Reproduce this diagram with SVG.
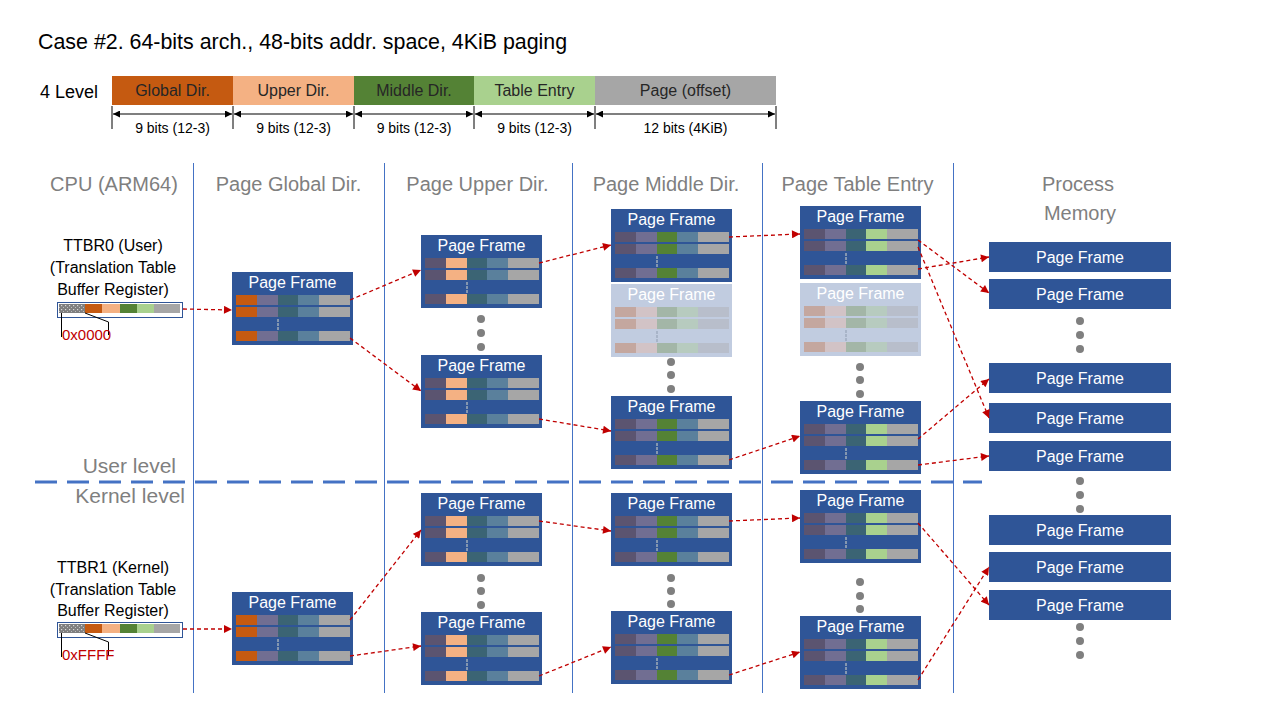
<svg xmlns="http://www.w3.org/2000/svg" xmlns:xlink="http://www.w3.org/1999/xlink" width="1280" height="720" viewBox="0 0 1280 720">
<style>
text{font-family:"Liberation Sans",Arial,sans-serif}
.title{font-size:21.4px;fill:#000}
.hdr{font-size:20px;fill:#7F7F7F;text-anchor:middle}
.lvl{font-size:21px;fill:#7F7F7F;text-anchor:end}
.bar{font-size:16px;fill:#262626;text-anchor:middle}
.dim{font-size:14px;fill:#000;text-anchor:middle}
.reg{font-size:16px;fill:#000;text-anchor:middle}
.hex{font-size:15px;fill:#C00000}
.pf{fill:#2F5597}
.pff{fill:#C1CCE0}
.pft{font-size:16px;fill:#fff;text-anchor:middle}
.col{stroke:#4472C4;stroke-width:1}
.con{fill:none;stroke:#C00000;stroke-width:1.3;stroke-dasharray:4 3;marker-end:url(#ar)}
.dimln{stroke:#000;stroke-width:1.2;marker-start:url(#da);marker-end:url(#da)}
.tick{stroke:#000;stroke-width:1}
.dot{fill:#7F7F7F}
.brk{fill:none;stroke:#000;stroke-width:1}
</style>
<defs>
<marker id="ar" viewBox="0 0 10 10" refX="10" refY="5" markerWidth="9" markerHeight="8" markerUnits="userSpaceOnUse" orient="auto"><path d="M0,0 L10,5 L0,10 z" fill="#C00000"/></marker>
<marker id="da" viewBox="0 0 10 10" refX="10" refY="5" markerWidth="8" markerHeight="7" markerUnits="userSpaceOnUse" orient="auto-start-reverse"><path d="M0,0 L10,5 L0,10 z" fill="#000"/></marker>
<pattern id="dots" width="4" height="4" patternUnits="userSpaceOnUse"><rect width="4" height="4" fill="#7F7F7F"/><rect x="1" y="1" width="1.2" height="1.2" fill="#D9D9D9"/><rect x="3" y="3" width="1.2" height="1.2" fill="#BFBFBF"/></pattern>
<g id="vd"><rect x="45" y="47" width="2" height="3" fill="#8497B0"/><rect x="45" y="51" width="2" height="3" fill="#8497B0"/><rect x="45" y="55" width="2" height="3" fill="#8497B0"/></g>
<g id="vdf"><rect x="45" y="47" width="2" height="3" fill="#A8B4C8"/><rect x="45" y="51" width="2" height="3" fill="#A8B4C8"/><rect x="45" y="55" width="2" height="3" fill="#A8B4C8"/></g>
<g id="row-pgd"><rect x="4" width="21" height="10" fill="#C55A11"/><rect x="25" width="21" height="10" fill="#716E92"/><rect x="46" width="20" height="10" fill="#3B6474"/><rect x="66" width="21" height="10" fill="#5A809C"/><rect x="87" width="31" height="10" fill="#A6A6A6"/></g>
<g id="row-pud"><rect x="4" width="21" height="10" fill="#5B5470"/><rect x="25" width="21" height="10" fill="#F4B183"/><rect x="46" width="20" height="10" fill="#3B6474"/><rect x="66" width="21" height="10" fill="#5A809C"/><rect x="87" width="31" height="10" fill="#A6A6A6"/></g>
<g id="row-pmd"><rect x="4" width="21" height="10" fill="#5B5470"/><rect x="25" width="21" height="10" fill="#716E92"/><rect x="46" width="20" height="10" fill="#548235"/><rect x="66" width="21" height="10" fill="#5A809C"/><rect x="87" width="31" height="10" fill="#A6A6A6"/></g>
<g id="row-pte"><rect x="4" width="21" height="10" fill="#5B5470"/><rect x="25" width="21" height="10" fill="#716E92"/><rect x="46" width="20" height="10" fill="#3B6474"/><rect x="66" width="21" height="10" fill="#A9D18E"/><rect x="87" width="31" height="10" fill="#A6A6A6"/></g>
<g id="row-fade"><rect x="4" width="21" height="10" fill="#C4A79F"/><rect x="25" width="21" height="10" fill="#D2C3C6"/><rect x="46" width="20" height="10" fill="#A3B6A7"/><rect x="66" width="21" height="10" fill="#B7CBBF"/><rect x="87" width="31" height="10" fill="#B8BECB"/></g>
<g id="f-pgd"><rect class="pf" width="121" height="73"/><use xlink:href="#row-pgd" y="23"/><use xlink:href="#row-pgd" y="35"/><use xlink:href="#row-pgd" y="59"/><use xlink:href="#vd"/></g>
<g id="f-pud"><rect class="pf" width="121" height="73"/><use xlink:href="#row-pud" y="23"/><use xlink:href="#row-pud" y="35"/><use xlink:href="#row-pud" y="59"/><use xlink:href="#vd"/></g>
<g id="f-pmd"><rect class="pf" width="121" height="73"/><use xlink:href="#row-pmd" y="23"/><use xlink:href="#row-pmd" y="35"/><use xlink:href="#row-pmd" y="59"/><use xlink:href="#vd"/></g>
<g id="f-pte"><rect class="pf" width="121" height="73"/><use xlink:href="#row-pte" y="23"/><use xlink:href="#row-pte" y="35"/><use xlink:href="#row-pte" y="59"/><use xlink:href="#vd"/></g>
<g id="f-fade"><rect class="pff" width="121" height="73"/><use xlink:href="#row-fade" y="23"/><use xlink:href="#row-fade" y="35"/><use xlink:href="#row-fade" y="59"/><use xlink:href="#vdf"/></g>
</defs>
<rect width="1280" height="720" fill="#fff"/>

<g id="title"><text class="title" x="38" y="49">Case #2. 64-bits arch., 48-bits addr. space, 4KiB paging</text></g>

<g id="addr-format">
<text x="40" y="98" style="font-size:18px;fill:#000">4 Level</text>
<rect x="112" y="76" width="121" height="29" fill="#C55A11"/>
<rect x="233" y="76" width="121" height="29" fill="#F4B183"/>
<rect x="354" y="76" width="120" height="29" fill="#548235"/>
<rect x="474" y="76" width="121" height="29" fill="#A9D18E"/>
<rect x="595" y="76" width="181" height="29" fill="#A6A6A6"/>
<text class="bar" x="172.5" y="96">Global Dir.</text>
<text class="bar" x="293.5" y="96">Upper Dir.</text>
<text class="bar" x="414" y="96">Middle Dir.</text>
<text class="bar" x="534.5" y="96">Table Entry</text>
<text class="bar" x="685.5" y="96">Page (offset)</text>
<line class="tick" x1="112" y1="106" x2="112" y2="129"/>
<line class="tick" x1="233" y1="106" x2="233" y2="129"/>
<line class="tick" x1="354" y1="106" x2="354" y2="129"/>
<line class="tick" x1="474" y1="106" x2="474" y2="129"/>
<line class="tick" x1="595" y1="106" x2="595" y2="129"/>
<line class="tick" x1="776" y1="106" x2="776" y2="129"/>
<line class="dimln" x1="113" y1="114" x2="232" y2="114"/>
<line class="dimln" x1="234" y1="114" x2="353" y2="114"/>
<line class="dimln" x1="355" y1="114" x2="473" y2="114"/>
<line class="dimln" x1="475" y1="114" x2="594" y2="114"/>
<line class="dimln" x1="596" y1="114" x2="775" y2="114"/>
<text class="dim" x="172.5" y="133">9 bits (12-3)</text>
<text class="dim" x="293.5" y="133">9 bits (12-3)</text>
<text class="dim" x="414" y="133">9 bits (12-3)</text>
<text class="dim" x="534.5" y="133">9 bits (12-3)</text>
<text class="dim" x="685.5" y="133">12 bits (4KiB)</text>
</g>

<g id="columns">
<line class="col" x1="193.5" y1="163" x2="193.5" y2="693"/>
<line class="col" x1="384.5" y1="163" x2="384.5" y2="693"/>
<line class="col" x1="572.5" y1="163" x2="572.5" y2="693"/>
<line class="col" x1="762.5" y1="163" x2="762.5" y2="693"/>
<line class="col" x1="953.5" y1="163" x2="953.5" y2="693"/>
<text class="hdr" x="114" y="191">CPU (ARM64)</text>
<text class="hdr" x="288.5" y="191">Page Global Dir.</text>
<text class="hdr" x="477.5" y="191">Page Upper Dir.</text>
<text class="hdr" x="666" y="191">Page Middle Dir.</text>
<text class="hdr" x="857.5" y="191">Page Table Entry</text>
<text class="hdr" x="1078" y="191">Process</text>
<text class="hdr" x="1080" y="220">Memory</text>
</g>

<g id="level-split">
<line x1="35" y1="482" x2="982" y2="482" stroke="#4472C4" stroke-width="3" stroke-dasharray="22 10"/>
<text class="lvl" x="176" y="473">User level</text>
<text class="lvl" x="185" y="503">Kernel level</text>
</g>

<g id="ttbr0">
<text class="reg" x="113" y="251">TTBR0 (User)</text>
<text class="reg" x="113" y="273">(Translation Table</text>
<text class="reg" x="113" y="295">Buffer Register)</text>
<rect x="57.5" y="302.5" width="125" height="15" fill="#fff" stroke="#2F5597" stroke-width="1"/>
<rect x="59" y="304" width="26" height="9" fill="url(#dots)"/>
<rect x="85" y="304" width="17" height="9" fill="#C55A11"/>
<rect x="102" y="304" width="18" height="9" fill="#F4B183"/>
<rect x="120" y="304" width="17" height="9" fill="#548235"/>
<rect x="137" y="304" width="17" height="9" fill="#A9D18E"/>
<rect x="154" y="304" width="26" height="9" fill="#A6A6A6"/>
<path class="brk" d="M61.5,313 V337 M85,313 L108.5,322 V335"/>
<text class="hex" x="62" y="340">0x0000</text>
</g>

<g id="ttbr1">
<text class="reg" x="113" y="573">TTBR1 (Kernel)</text>
<text class="reg" x="113" y="595">(Translation Table</text>
<text class="reg" x="113" y="616">Buffer Register)</text>
<rect x="57.5" y="622.5" width="125" height="15" fill="#fff" stroke="#2F5597" stroke-width="1"/>
<rect x="59" y="624" width="26" height="9" fill="url(#dots)"/>
<rect x="85" y="624" width="17" height="9" fill="#C55A11"/>
<rect x="102" y="624" width="18" height="9" fill="#F4B183"/>
<rect x="120" y="624" width="17" height="9" fill="#548235"/>
<rect x="137" y="624" width="17" height="9" fill="#A9D18E"/>
<rect x="154" y="624" width="26" height="9" fill="#A6A6A6"/>
<path class="brk" d="M61.5,633 V657 M85,633 L108.5,642 V655"/>
<text class="hex" x="62" y="660">0xFFFF</text>
</g>

<!-- user frames -->
<g id="u-pgd" transform="translate(232,272)"><use xlink:href="#f-pgd"/><text class="pft" x="60.5" y="16">Page Frame</text></g>
<g id="u-pud-a" transform="translate(421,235)"><use xlink:href="#f-pud"/><text class="pft" x="60.5" y="16">Page Frame</text></g>
<g id="u-pud-b" transform="translate(421,355)"><use xlink:href="#f-pud"/><text class="pft" x="60.5" y="16">Page Frame</text></g>
<g id="u-pmd-a" transform="translate(611,209)"><use xlink:href="#f-pmd"/><text class="pft" x="60.5" y="16">Page Frame</text></g>
<g id="u-pmd-f" transform="translate(611,284)"><use xlink:href="#f-fade"/><text class="pft" x="60.5" y="16">Page Frame</text></g>
<g id="u-pmd-b" transform="translate(611,396)"><use xlink:href="#f-pmd"/><text class="pft" x="60.5" y="16">Page Frame</text></g>
<g id="u-pte-a" transform="translate(800,206)"><use xlink:href="#f-pte"/><text class="pft" x="60.5" y="16">Page Frame</text></g>
<g id="u-pte-f" transform="translate(800,283)"><use xlink:href="#f-fade"/><text class="pft" x="60.5" y="16">Page Frame</text></g>
<g id="u-pte-b" transform="translate(800,401)"><use xlink:href="#f-pte"/><text class="pft" x="60.5" y="16">Page Frame</text></g>

<!-- kernel frames -->
<g id="k-pgd" transform="translate(232,592)"><use xlink:href="#f-pgd"/><text class="pft" x="60.5" y="16">Page Frame</text></g>
<g id="k-pud-a" transform="translate(421,493)"><use xlink:href="#f-pud"/><text class="pft" x="60.5" y="16">Page Frame</text></g>
<g id="k-pud-b" transform="translate(421,612)"><use xlink:href="#f-pud"/><text class="pft" x="60.5" y="16">Page Frame</text></g>
<g id="k-pmd-a" transform="translate(611,493)"><use xlink:href="#f-pmd"/><text class="pft" x="60.5" y="16">Page Frame</text></g>
<g id="k-pmd-b" transform="translate(611,611)"><use xlink:href="#f-pmd"/><text class="pft" x="60.5" y="16">Page Frame</text></g>
<g id="k-pte-a" transform="translate(800,490)"><use xlink:href="#f-pte"/><text class="pft" x="60.5" y="16">Page Frame</text></g>
<g id="k-pte-b" transform="translate(800,616)"><use xlink:href="#f-pte"/><text class="pft" x="60.5" y="16">Page Frame</text></g>

<!-- process memory -->
<g id="m1"><rect class="pf" x="989" y="242" width="182" height="30"/><text class="pft" x="1080" y="263">Page Frame</text></g>
<g id="m2"><rect class="pf" x="989" y="279" width="182" height="30"/><text class="pft" x="1080" y="300">Page Frame</text></g>
<g id="m3"><rect class="pf" x="989" y="363" width="182" height="30"/><text class="pft" x="1080" y="384">Page Frame</text></g>
<g id="m4"><rect class="pf" x="989" y="403" width="182" height="30"/><text class="pft" x="1080" y="424">Page Frame</text></g>
<g id="m5"><rect class="pf" x="989" y="441" width="182" height="30"/><text class="pft" x="1080" y="462">Page Frame</text></g>
<g id="m6"><rect class="pf" x="989" y="515" width="182" height="30"/><text class="pft" x="1080" y="536">Page Frame</text></g>
<g id="m7"><rect class="pf" x="989" y="552" width="182" height="30"/><text class="pft" x="1080" y="573">Page Frame</text></g>
<g id="m8"><rect class="pf" x="989" y="590" width="182" height="30"/><text class="pft" x="1080" y="611">Page Frame</text></g>

<g id="ellipses">
<circle class="dot" cx="481" cy="319" r="4"/><circle class="dot" cx="481" cy="333" r="4"/><circle class="dot" cx="481" cy="347" r="4"/>
<circle class="dot" cx="671" cy="362" r="4"/><circle class="dot" cx="671" cy="375" r="4"/><circle class="dot" cx="671" cy="389" r="4"/>
<circle class="dot" cx="860" cy="367" r="4"/><circle class="dot" cx="860" cy="380" r="4"/><circle class="dot" cx="860" cy="394" r="4"/>
<circle class="dot" cx="1080" cy="321" r="4"/><circle class="dot" cx="1080" cy="335" r="4"/><circle class="dot" cx="1080" cy="349" r="4"/>
<circle class="dot" cx="1080" cy="481" r="4"/><circle class="dot" cx="1080" cy="495" r="4"/><circle class="dot" cx="1080" cy="509" r="4"/>
<circle class="dot" cx="481" cy="578" r="4"/><circle class="dot" cx="481" cy="591" r="4"/><circle class="dot" cx="481" cy="605" r="4"/>
<circle class="dot" cx="671" cy="578" r="4"/><circle class="dot" cx="671" cy="591" r="4"/><circle class="dot" cx="671" cy="604" r="4"/>
<circle class="dot" cx="860" cy="582" r="4"/><circle class="dot" cx="860" cy="596" r="4"/><circle class="dot" cx="860" cy="609" r="4"/>
<circle class="dot" cx="1080" cy="627" r="4"/><circle class="dot" cx="1080" cy="641" r="4"/><circle class="dot" cx="1080" cy="655" r="4"/>
</g>

<g id="connectors">
<line class="con" x1="183" y1="309" x2="232" y2="310"/>
<line class="con" x1="350" y1="300" x2="421" y2="270"/>
<line class="con" x1="350" y1="338" x2="421" y2="391"/>
<line class="con" x1="539" y1="263" x2="611" y2="245"/>
<line class="con" x1="539" y1="419" x2="611" y2="431"/>
<line class="con" x1="729" y1="237" x2="800" y2="234"/>
<line class="con" x1="729" y1="460" x2="800" y2="436"/>
<line class="con" x1="918" y1="240" x2="989" y2="293"/>
<line class="con" x1="918" y1="247" x2="989" y2="418"/>
<line class="con" x1="918" y1="269" x2="989" y2="257"/>
<line class="con" x1="918" y1="439" x2="989" y2="379"/>
<line class="con" x1="918" y1="465" x2="989" y2="456"/>
<line class="con" x1="183" y1="629" x2="232" y2="629"/>
<line class="con" x1="350" y1="620" x2="421" y2="530"/>
<line class="con" x1="350" y1="656" x2="421" y2="646"/>
<line class="con" x1="539" y1="521" x2="611" y2="531"/>
<line class="con" x1="539" y1="676" x2="611" y2="647"/>
<line class="con" x1="729" y1="521" x2="800" y2="518"/>
<line class="con" x1="729" y1="675" x2="800" y2="652"/>
<line class="con" x1="918" y1="523" x2="989" y2="605"/>
<line class="con" x1="918" y1="680" x2="989" y2="567"/>
</g>
</svg>
